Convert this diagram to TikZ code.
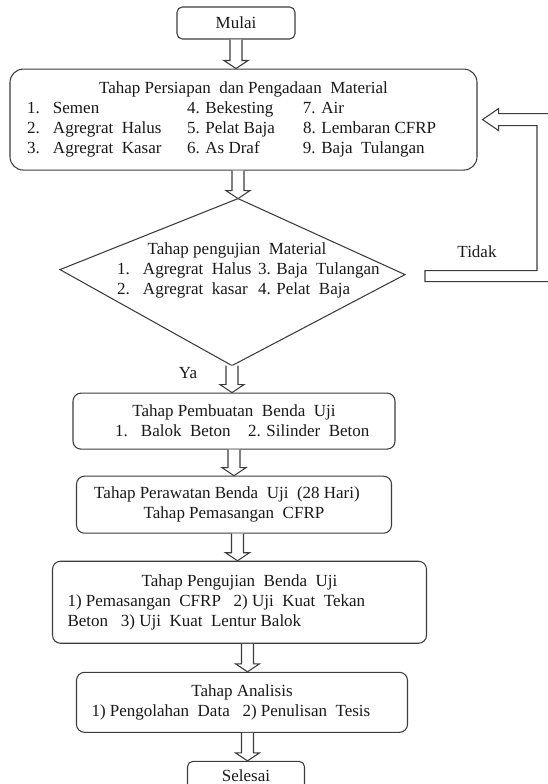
\documentclass[tikz,border=0pt]{standalone}
\usepackage{fontspec}
\setmainfont{Liberation Serif}
\usetikzlibrary{positioning,calc}
\definecolor{GarisAbu}{RGB}{60,60,60}
\definecolor{TeksHitam}{RGB}{25,25,25}
\newcommand{\nomor}[1]{\makebox[19.5pt][l]{#1}}

\begin{document}
\begin{tikzpicture}[
  x=0.75pt, y=-0.75pt, % one unit = one pixel of the reference, y downwards
  font=\fontsize{12.75pt}{15pt}\selectfont,
  proses/.style={draw=GarisAbu, line width=0.8pt, rounded corners=6pt, fill=white,
    align=center, inner sep=0pt, text=TeksHitam},
  terminal/.style={proses, rounded corners=4pt, minimum width=88.5pt, minimum height=24pt},
  teks/.style={align=center, inner sep=0pt, text=TeksHitam},
  garis/.style={draw=GarisAbu, line width=0.8pt},
  panah/.style={garis, fill=white, to path={let \p1=(\tikztostart), \p2=(\tikztotarget) in
    (\x1-4.5pt,\y1) -- (\x1-4.5pt,\y2+6pt) -- (\x1-9pt,\y2+6pt) -- (\x1,\y2)
    -- (\x1+9pt,\y2+6pt) -- (\x1+4.5pt,\y2+6pt) -- (\x1+4.5pt,\y1)}}
]
\useasboundingbox (0,0) rectangle (547,784);

% --- Start and material preparation ---
\node[terminal] (mulai) at (236,23) {Mulai};
\node[proses, rounded corners=10pt, minimum width=350.25pt, minimum height=75.75pt,
  below=21.75pt of mulai, xshift=5.625pt] (persiapan) {%
  Tahap Persiapan~ dan Pengadaan~ Material\\
  \makebox[120pt][l]{\nomor{1.}Semen}\makebox[87pt][l]{4. Bekesting}\makebox[117.75pt][l]{7. Air}\\
  \makebox[120pt][l]{\nomor{2.}Agregrat~ Halus}\makebox[87pt][l]{5. Pelat Baja}\makebox[117.75pt][l]{8. Lembaran CFRP}\\
  \makebox[120pt][l]{\nomor{3.}Agregrat~ Kasar}\makebox[87pt][l]{6. As Draf}\makebox[117.75pt][l]{9. Baja~ Tulangan}};

% --- Decision: material testing ---
\node[teks] (ujimat) at ($(persiapan.south)+(-6.5,100)$) {%
  Tahap pengujian~ Material\\
  \makebox[105.75pt][l]{\nomor{1.}Agregrat~ Halus}\makebox[74.25pt][l]{3. Baja~ Tulangan}\\
  \makebox[105.75pt][l]{\nomor{2.}Agregrat~ kasar}\makebox[74.25pt][l]{4. Pelat~ Baja}};
\coordinate (dA) at ($(ujimat)+(1,-72)$);
\coordinate (dK) at ($(ujimat)+(168,4)$);
\coordinate (dB) at ($(ujimat)+(-5,95)$);
\coordinate (dL) at ($(ujimat)+(-177,-1)$);
\draw[garis] (dA) -- (dK) -- (dB) -- (dL) -- cycle;

\node[teks] (tidak) at ($(dK)+(72,-23)$) {Tidak};
\node[teks] (ya) at ($(dB)+(-44,7)$) {Ya};

% --- Specimens, curing, testing, analysis ---
\node[proses, minimum width=241.5pt, minimum height=42pt,
  below=20.25pt of dB, xshift=1.5pt] (pembuatan) {%
  Tahap Pembuatan~ Benda~ Uji\\
  \makebox[99.75pt][l]{\nomor{1.}Balok~ Beton}\makebox[78.75pt][l]{2. Silinder~ Beton}};
\node[proses, minimum width=236.25pt, minimum height=42.75pt,
  below=19.5pt of pembuatan] (perawatan) {%
  Tahap Perawatan Benda~ Uji~ (28 Hari)\hspace*{10.5pt}\\
  Tahap Pemasangan~ CFRP};
\node[proses, minimum width=280.5pt, minimum height=61.5pt,
  below=20.25pt of perawatan, xshift=4.125pt] (pengujian) {%
  Tahap Pengujian~ Benda~ Uji\\
  \makebox[258pt][l]{1) Pemasangan~ CFRP~ ~2) Uji~ Kuat~ Tekan}\\
  \makebox[258pt][l]{Beton~ ~3) Uji~ Kuat~ Lentur Balok}};
\node[proses, minimum width=248.25pt, minimum height=45pt,
  below=21pt of pengujian, xshift=1.875pt] (analisis) {%
  Tahap Analisis\\
  \makebox[225.75pt][l]{1) Pengolahan~ Data~ ~2) Penulisan~ Tesis}};
\node[terminal, minimum width=87.75pt, minimum height=21.5pt, below=21pt of analisis, xshift=3pt] (selesai) {Selesai};

% --- Block arrows ---
\draw[panah] (mulai.south) to (persiapan.north);
\draw[panah] ([xshift=-4.125pt]persiapan.south) to (dA);
\draw[panah] (dB) to (pembuatan.north);
\draw[panah] (pembuatan.south) to (perawatan.north);
\draw[panah] ([xshift=2.625pt]perawatan.south) to (pengujian.north);
\draw[panah] ([xshift=6pt]pengujian.south) to (analisis.north);
\draw[panah] ([xshift=4.125pt]analisis.south) to (selesai.north);

% Feedback "Tidak" back to preparation
\draw[garis, fill=white] let \p1=(dK), \p2=(persiapan.east) in
  (\x1+15pt,\y1+3pt) -- (\x1+99pt,\y1+3pt) -- (\x1+99pt,\y2-4.5pt)
  -- (\x2+15.75pt,\y2-4.5pt) -- (\x2+15.75pt,\y2-8.25pt) -- (\x2+3.75pt,\y2)
  -- (\x2+15.75pt,\y2+8.25pt) -- (\x2+15.75pt,\y2+4.5pt) -- (\x1+108pt,\y2+4.5pt)
  -- (\x1+108pt,\y1-5.25pt) -- (\x1+15pt,\y1-5.25pt) -- cycle;

\end{tikzpicture}
\end{document}
